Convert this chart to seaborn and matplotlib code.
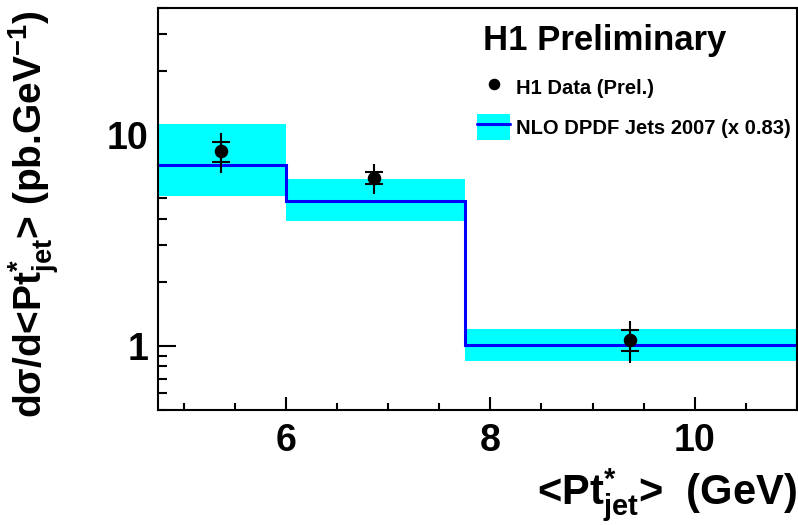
import numpy as np
import pandas as pd
import matplotlib
matplotlib.use('Agg')
import matplotlib.pyplot as plt
import matplotlib.ticker as mticker
import seaborn as sns
from matplotlib.lines import Line2D
from matplotlib.patches import Patch

# ---- data ----
bin_edges = [4.75, 6.0, 7.75, 11.0]
nlo_values = [7.2, 4.85, 1.015]
nlo_upper = [11.2, 6.2, 1.2]
nlo_lower = [5.15, 3.9, 0.85]

data_x = [5.37, 6.865, 9.37]
data_y = [8.35, 6.26, 1.07]
data_stat = [0.9, 0.42, 0.12]
data_tot = [1.78, 1.0, 0.24]

y_ticks = [1, 10]
y_ticklabels = ['1', '10']
x_ticks = [6, 8, 10]
x_ticklabels = ['6', '8', '10']

df = pd.DataFrame({'x': data_x, 'y': data_y})

sns.set_theme(style='ticks')
plt.rcParams['font.family'] = ['Liberation Sans', 'DejaVu Sans']
plt.rcParams['font.weight'] = 'bold'
plt.rcParams['text.color'] = 'black'
plt.rcParams['axes.labelcolor'] = 'black'
plt.rcParams['mathtext.fontset'] = 'custom'
plt.rcParams['mathtext.rm'] = 'Liberation Sans:bold'
plt.rcParams['mathtext.it'] = 'Liberation Sans:bold'
plt.rcParams['mathtext.bf'] = 'Liberation Sans:bold'
plt.rcParams['mathtext.sf'] = 'Liberation Sans:bold'

W, H = 798, 525
fig = plt.figure(figsize=(W / 100, H / 100), dpi=100)
fig.patch.set_facecolor('white')
ax = fig.add_axes([158 / W, 1 - 409.5 / H, (797 - 158) / W, (409.5 - 7.5) / H])
ax.set_facecolor('white')

# NLO band and line
ax.stairs(nlo_upper, bin_edges, baseline=nlo_lower, fill=True,
          color='#00ffff', lw=0, zorder=1)
ax.stairs(nlo_values, bin_edges, baseline=None, color='#0000ff',
          lw=2.2, zorder=2)

# data with errors
ax.errorbar(data_x, data_y, yerr=data_tot, fmt='none', ecolor='black',
            elinewidth=1.5, capsize=0, zorder=3)
ax.errorbar(data_x, data_y, yerr=data_stat, fmt='none', ecolor='black',
            elinewidth=1.5, capsize=6.8, capthick=1.5, zorder=3)
sns.scatterplot(data=df, x='x', y='y', ax=ax, color='black', s=95,
                edgecolor='black', linewidth=0, zorder=4, legend=False)

ax.set_yscale('log')
ax.set_xlim(4.75, 11)
ax.set_ylim(0.5, 40)
ax.set_xlabel('')
ax.set_ylabel('')

ax.set_yticks(y_ticks)
ax.set_yticklabels(y_ticklabels)
ax.yaxis.set_minor_locator(mticker.LogLocator(base=10, subs=np.arange(2, 10)))
ax.yaxis.set_minor_formatter(mticker.NullFormatter())
ax.set_xticks(x_ticks)
ax.set_xticklabels(x_ticklabels)
ax.xaxis.set_minor_locator(mticker.MultipleLocator(0.5))

ax.tick_params(axis='both', which='both', direction='in', top=False,
               right=False, width=1.5, color='black', labelcolor='black')
ax.tick_params(axis='y', which='major', length=13, pad=7, labelsize=27)
ax.tick_params(axis='y', which='minor', length=6.5)
ax.tick_params(axis='x', which='major', length=9.1, pad=10, labelsize=27)
ax.tick_params(axis='x', which='minor', length=4.8)
for lab in ax.get_xticklabels() + ax.get_yticklabels():
    lab.set_fontweight('bold')

for sp in ax.spines.values():
    sp.set_visible(True)
    sp.set_color('black')
    sp.set_linewidth(1.5)
ax.grid(False)

# axis titles
fig.text(797 / W, 1 - 505 / H, '<Pt$^{*}_{jet}$>  (GeV)', ha='right',
         va='baseline', fontsize=30, fontweight='bold', color='black')
fig.text(34 / W, 1 - 10 / H, 'dσ/d<Pt$^{*}_{jet}$> (pb.GeV$^{-1}$)',
         rotation=90, ha='center', va='top', fontsize=28,
         fontweight='bold', color='black')

# title text
fig.text(483 / W, 1 - 50 / H, 'H1 Preliminary', ha='left', va='baseline',
         fontsize=25, fontweight='bold', color='black')

# legend
h_data = Line2D([], [], marker='o', ls='none', color='black', markersize=7.3)
h_nlo = (Patch(facecolor='#00ffff', edgecolor='none'),
         Line2D([], [], color='#0000ff', lw=2.2))
leg = ax.legend([h_data, h_nlo], ['H1 Data (Prel.)', 'NLO DPDF Jets 2007 (x 0.83)'],
                loc='upper left', bbox_to_anchor=(477 / W, 1 - 74 / H),
                bbox_transform=fig.transFigure, frameon=False,
                prop={'size': 14.5, 'weight': 'bold'}, handlelength=1.65,
                handleheight=1.6, handletextpad=0.3, labelspacing=0.7,
                borderpad=0, borderaxespad=0)
for t in leg.get_texts():
    t.set_color('black')

fig.savefig('out.png', dpi=100, facecolor='white')
